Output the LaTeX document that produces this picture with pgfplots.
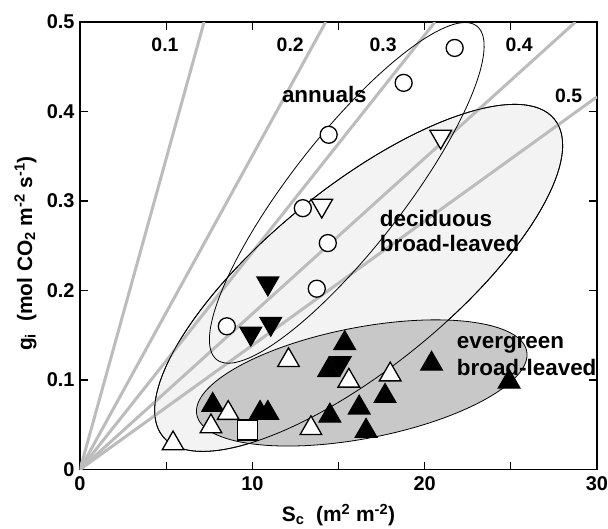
\documentclass[border=0pt]{standalone}
\usepackage{fontspec}
\setmainfont{Liberation Sans}
\usepackage{pgfplots}
\pgfplotsset{compat=1.18}
\usetikzlibrary{shapes.geometric}
\definecolor{linegray}{RGB}{188,188,188}
\definecolor{decgray}{RGB}{243,243,243}
\definecolor{evgray}{RGB}{200,200,200}
\newcommand\fs[1]{\fontsize{#1}{#1}\selectfont\bfseries}
\begin{document}
\begin{tikzpicture}
\useasboundingbox (-80bp,-59.5bp) rectangle (528bp,469.5bp);
\begin{axis}[
  scale only axis, width=517bp, height=447.5bp,
  xmin=0, xmax=30, ymin=0, ymax=0.5,
  xtick={0,5,10,15,20,25,30}, xticklabels={0,,10,,20,,30},
  ytick={0,0.1,0.2,0.3,0.4,0.5}, yticklabels={0,0.1,0.2,0.3,0.4,0.5},
  tick align=inside, major tick length=8bp,
  tick style={black, line width=1.2bp},
  axis line style={line width=1.3bp},
  ticklabel style={font=\fs{20}},
  xticklabel style={yshift=-4bp},
  yticklabel style={xshift=-2bp},
  xlabel={S\textsubscript{c}\ \ (m\textsuperscript{2} m\textsuperscript{-2})},
  ylabel={g\textsubscript{i}\ \ (mol CO\textsubscript{2} m\textsuperscript{-2} s\textsuperscript{-1})},
  xlabel style={font=\fs{21}, at={(axis description cs:0.5,-0.1162)}, anchor=base},
  ylabel style={font=\fs{21}, at={(axis description cs:-0.0928,0.4827)}, anchor=base},
]
% deciduous ellipse fill
\node[ellipse, fill=decgray, draw=black, line width=0.8bp, minimum width=504bp, minimum height=181bp, inner sep=0pt, rotate=39] at (axis cs:16.17,0.2141) {};
% iso-lines
\addplot[linegray, line width=3bp] coordinates {(0,0) (7.2,0.5)};
\addplot[linegray, line width=3bp] coordinates {(0,0) (14.26,0.5)};
\addplot[linegray, line width=3bp] coordinates {(0,0) (20.6,0.5)};
\addplot[linegray, line width=3bp] coordinates {(0,0) (28.75,0.5)};
\addplot[linegray, line width=3bp] coordinates {(0,0) (30,0.4164)};
% evergreen ellipse
\node[ellipse, fill=evgray, draw=black, line width=0.8bp, minimum width=336bp, minimum height=111bp, inner sep=0pt, rotate=10.9] at (axis cs:16.35,0.0967) {};
% deciduous outline again (over lines)
\node[ellipse, draw=black, line width=0.8bp, minimum width=504bp, minimum height=181bp, inner sep=0pt, rotate=39] at (axis cs:16.17,0.2141) {};
% annuals ellipse
\node[ellipse, draw=black, line width=0.8bp, minimum width=423bp, minimum height=112bp, inner sep=0pt, rotate=52.06] at (axis cs:15.48,0.3091) {};
% line labels
\node[font=\fs{19.5}] at (axis cs:4.93,0.4746) {0.1};
\node[font=\fs{19.5}] at (axis cs:12.2,0.4746) {0.2};
\node[font=\fs{19.5}] at (axis cs:17.59,0.4746) {0.3};
\node[font=\fs{19.5}] at (axis cs:25.48,0.4746) {0.4};
\node[font=\fs{19.5}] at (axis cs:28.35,0.417) {0.5};
% group labels
\node[font=\fs{22.5}, anchor=base west, inner sep=0pt] at (axis cs:11.71,0.410) {annuals};
\node[font=\fs{22.5}, anchor=base west, inner sep=0pt] at (axis cs:17.39,0.2714) {deciduous};
\node[font=\fs{22.5}, anchor=base west, inner sep=0pt] at (axis cs:17.39,0.2435) {broad-leaved};
\node[font=\fs{22.5}, anchor=base west, inner sep=0pt] at (axis cs:21.86,0.1347) {evergreen};
\node[font=\fs{22.5}, anchor=base west, inner sep=0pt] at (axis cs:21.86,0.1049) {broad-leaved};
% evergreen filled up triangles
\addplot[only marks, mark=triangle*, mark size=12.5bp, mark options={fill=black, draw=black, line width=1.2bp}] coordinates {
(15.36,0.141) (14.43,0.111) (20.4,0.118) (17.7,0.082) (16.2,0.069) (14.5,0.060) (16.6,0.043) (24.9,0.098) (7.7,0.072) (10.45,0.063) (10.9,0.063)};
% deciduous filled down triangles
\addplot[only marks, mark=triangle*, mark size=12.5bp, mark options={rotate=180, fill=black, draw=black, line width=1.2bp}] coordinates {
(10.9,0.208) (11.07,0.163) (9.91,0.152) (15.1,0.119)};
% deciduous open down triangles
\addplot[only marks, mark=triangle*, mark size=12.5bp, mark options={rotate=180, fill=white, draw=black, line width=1.3bp}] coordinates {
(20.93,0.372) (14.03,0.295)};
% evergreen open up triangles
\addplot[only marks, mark=triangle*, mark size=12.5bp, mark options={fill=white, draw=black, line width=1.3bp}] coordinates {
(15.6,0.099) (18.0,0.106) (13.4,0.046) (12.1,0.122) (8.6,0.063) (7.6,0.048) (5.4,0.029)};
% open square
\addplot[only marks, mark=square*, mark size=10bp, mark options={fill=white, draw=black, line width=1.3bp}] coordinates {(9.7,0.044)};
% annuals open circles
\addplot[only marks, mark=*, mark size=8.5bp, mark options={fill=white, draw=black, line width=1.3bp}] coordinates {
(21.74,0.471) (18.78,0.432) (14.43,0.374) (12.93,0.292) (14.38,0.253) (13.74,0.202) (8.52,0.160)};
\end{axis}
\end{tikzpicture}
\end{document}
